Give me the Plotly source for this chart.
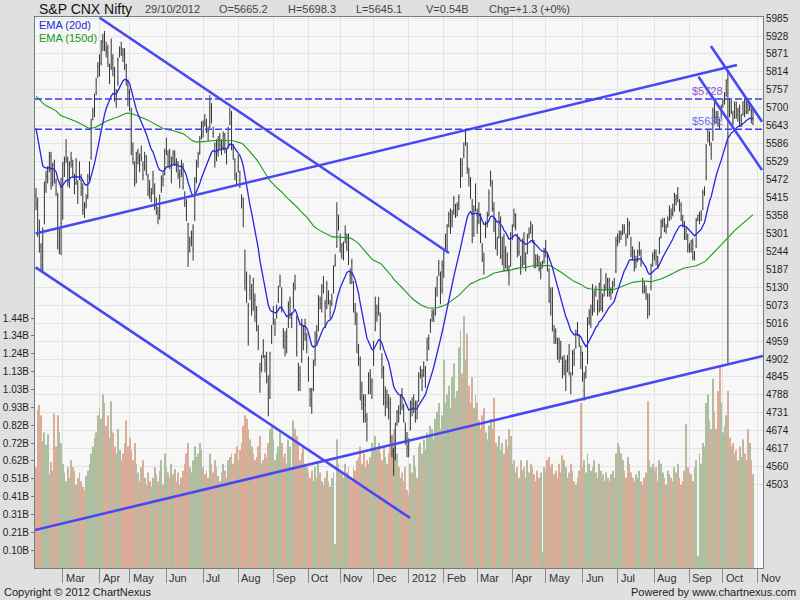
import pandas as pd
import plotly.graph_objects as go

# S&P CNX Nifty, daily bars 07/02/2011 .. 29/10/2012
holidays = [
    "2011-03-02", "2011-04-12", "2011-04-14", "2011-04-22", "2011-08-15",
    "2011-08-31", "2011-09-01", "2011-10-06", "2011-10-27", "2011-11-07",
    "2011-11-10", "2011-12-06", "2012-01-26", "2012-02-20", "2012-03-08",
    "2012-04-05", "2012-04-06", "2012-05-01", "2012-08-15", "2012-08-20",
    "2012-09-19", "2012-10-02", "2012-10-24",
]
saturday_sessions = ["2012-04-28", "2012-09-08"]

opens = [
    5420, 5400, 5320, 5260, 5200, 5340, 5465, 5485, 5510, 5545, 5465, 5520, 5460, 5420, 5260, 5320,
    5350, 5490, 5560, 5520, 5465, 5540, 5520, 5460, 5460, 5440, 5480, 5470, 5445, 5385, 5390, 5420, 5480, 5540, 5665, 5680, 5750, 5800,
    5835, 5840, 5915, 5920, 5880, 5890, 5830, 5830, 5860, 5820, 5715, 5780, 5865, 5890, 5880, 5870, 5830, 5760,
    5750, 5690, 5575, 5515, 5470, 5560, 5540, 5545, 5520, 5510, 5545, 5480, 5445, 5430, 5440, 5450, 5390, 5370, 5360, 5440, 5475, 5490,
    5560, 5550, 5545, 5500, 5540, 5550, 5520, 5525, 5470, 5490, 5515, 5415, 5400, 5330, 5270, 5290, 5250, 5350, 5470, 5525, 5560, 5610,
    5650, 5655, 5655, 5625, 5640, 5700, 5620, 5580, 5545, 5560, 5610, 5585, 5575, 5615, 5560, 5580, 5650, 5680, 5570, 5530, 5460,
    5515, 5495, 5420, 5410, 5150, 5160, 4990, 5120, 5070, 5150, 5090, 5020, 5000, 4870, 4875, 4920, 4910, 4910, 4800, 4780, 4960,
    5030, 4995, 5040, 5090, 5150, 5120, 4990, 4960, 4930, 5010, 5090, 5040, 5070, 5150, 5030, 4820, 4850, 4900, 5000, 4980, 4970,
    4900, 4800, 4800, 4810, 4900, 4990, 5000, 5090, 5080, 5140, 5080, 5070, 5110, 5080, 5080, 5120, 5220, 5260, 5350,
    5280, 5230, 5250, 5300, 5270, 5290, 5170, 5210, 5130, 5050, 5040, 4920, 4900, 4760, 4780, 4720, 4690, 4800, 4850, 4780,
    4890, 5000, 5050, 5050, 5040, 4900, 4870, 4780, 4790, 4770, 4760, 4620, 4610, 4590, 4700, 4730, 4730, 4790, 4750, 4680, 4650,
    4640, 4680, 4760, 4760, 4720, 4760, 4770, 4870, 4850, 4850, 4840, 4900, 4940, 4990, 5040, 5030, 5050, 5120, 5190, 5170, 5120,
    5200, 5270, 5260, 5350, 5370, 5340, 5375, 5380, 5390, 5380, 5450, 5500, 5550, 5590, 5580, 5500, 5470, 5400, 5300, 5400,
    5360, 5370, 5360, 5260, 5200, 5300, 5340, 5360, 5470, 5460, 5380, 5330, 5250, 5290, 5350, 5230, 5290, 5200, 5230, 5170, 5200,
    5300, 5330, 5350, 5290, 5240, 5220, 5200, 5290, 5200, 5240, 5300, 5310, 5320, 5270, 5200, 5220, 5210, 5170, 5200, 5210,
    5250, 5230, 5180, 5060, 5120, 4990, 4990, 4950, 4950, 4910, 4900, 4880, 4830, 4880, 4920, 4840, 4860, 4920, 4940, 4990, 4970, 4920,
    4910, 4800, 4860, 4890, 5020, 5030, 5120, 5060, 5110, 5080, 5060, 5150, 5080, 5130, 5130, 5110, 5150, 5110, 5130, 5140, 5180,
    5290, 5290, 5300, 5310, 5320, 5290, 5290, 5330, 5280, 5250, 5240, 5210, 5220, 5260, 5240, 5150, 5130, 5120, 5100, 5060, 5130, 5210,
    5230, 5240, 5200, 5240, 5290, 5330, 5340, 5310, 5330, 5350, 5370, 5370, 5380, 5410, 5420, 5400, 5390, 5340, 5330, 5290, 5290,
    5260, 5250, 5270, 5220, 5260, 5345, 5350, 5360, 5380, 5440, 5480, 5600, 5610, 5580, 5600, 5700, 5670, 5670, 5660, 5680,
    5710, 5720, 5740, 5790, 5720, 5690, 5680, 5670, 5710, 5680, 5700, 5650, 5680, 5720, 5690, 5710, 5700, 5690, 5665.2,
]
highs = [
    5445, 5415, 5345, 5270, 5320, 5465, 5500, 5515, 5560, 5560, 5525, 5535, 5475, 5430, 5320, 5478,
    5528, 5545, 5600, 5545, 5530, 5560, 5535, 5490, 5540, 5470, 5530, 5490, 5460, 5400, 5425, 5490, 5530, 5665, 5700, 5745, 5795, 5845,
    5870, 5915, 5935, 5944, 5910, 5900, 5840, 5920, 5870, 5830, 5760, 5860, 5895, 5910, 5890, 5890, 5840, 5790,
    5760, 5700, 5590, 5530, 5560, 5570, 5555, 5580, 5530, 5560, 5550, 5490, 5470, 5445, 5500, 5460, 5415, 5385, 5425, 5485, 5495, 5570,
    5605, 5565, 5570, 5545, 5565, 5565, 5540, 5530, 5505, 5535, 5525, 5435, 5410, 5335, 5290, 5310, 5330, 5480, 5535, 5560, 5610, 5657,
    5660, 5680, 5665, 5640, 5740, 5715, 5640, 5590, 5600, 5610, 5620, 5600, 5625, 5620, 5570, 5640, 5700, 5690, 5585, 5540, 5495,
    5551, 5500, 5425, 5415, 5250, 5180, 5080, 5170, 5140, 5160, 5110, 5070, 5010, 4890, 4915, 4965, 4915, 4925, 4850, 4925, 5010,
    5070, 5030, 5075, 5135, 5170, 5130, 5000, 4990, 5000, 5085, 5100, 5050, 5145, 5170, 5040, 4890, 4880, 5030, 5010, 5030, 4985,
    4910, 4810, 4810, 4900, 4990, 5010, 5105, 5100, 5140, 5165, 5090, 5150, 5120, 5090, 5110, 5200, 5235, 5400, 5360,
    5300, 5270, 5275, 5326, 5300, 5300, 5190, 5220, 5150, 5080, 5050, 4950, 4910, 4830, 4790, 4790, 4730, 4860, 4870, 4840,
    4960, 5100, 5075, 5099, 5050, 4920, 4880, 4815, 4805, 4790, 4780, 4660, 4620, 4700, 4740, 4755, 4790, 4810, 4760, 4700, 4670,
    4650, 4770, 4780, 4790, 4770, 4770, 4860, 4880, 4870, 4895, 4880, 4970, 4980, 5030, 5060, 5060, 5130, 5165, 5217, 5180, 5215,
    5245, 5300, 5330, 5370, 5380, 5375, 5420, 5395, 5400, 5425, 5540, 5540, 5590, 5630, 5590, 5510, 5480, 5410, 5390, 5460,
    5380, 5400, 5365, 5270, 5240, 5340, 5370, 5440, 5500, 5470, 5400, 5350, 5290, 5370, 5355, 5290, 5300, 5260, 5240, 5200, 5305,
    5330, 5380, 5365, 5300, 5290, 5230, 5285, 5305, 5240, 5300, 5320, 5340, 5330, 5280, 5235, 5235, 5230, 5210, 5215, 5255,
    5280, 5240, 5190, 5130, 5130, 5010, 5000, 4970, 4970, 4960, 4910, 4915, 4900, 4915, 4950, 4860, 4930, 4935, 4995, 5020, 4980, 4945,
    4925, 4860, 4880, 5035, 5060, 5075, 5140, 5120, 5135, 5090, 5145, 5190, 5110, 5140, 5175, 5160, 5160, 5130, 5150, 5160, 5290,
    5300, 5310, 5310, 5330, 5330, 5300, 5350, 5340, 5290, 5260, 5250, 5230, 5250, 5275, 5250, 5160, 5150, 5135, 5110, 5110, 5205, 5240,
    5250, 5250, 5230, 5290, 5345, 5350, 5350, 5330, 5355, 5390, 5380, 5395, 5430, 5425, 5448, 5410, 5400, 5360, 5340, 5320, 5300,
    5270, 5280, 5285, 5245, 5350, 5360, 5370, 5375, 5440, 5450, 5585, 5630, 5625, 5590, 5700, 5720, 5690, 5690, 5665, 5710,
    5730, 5750, 5790, 5815, 5730, 5725, 5690, 5720, 5720, 5700, 5710, 5680, 5720, 5730, 5725, 5720, 5720, 5700, 5698.3,
]
lows = [
    5375, 5290, 5240, 5178, 5180, 5330, 5430, 5460, 5495, 5440, 5450, 5460, 5420, 5250, 5235, 5232,
    5345, 5480, 5525, 5450, 5445, 5510, 5480, 5425, 5455, 5395, 5470, 5420, 5360, 5350, 5380, 5410, 5465, 5535, 5660, 5670, 5740, 5795,
    5800, 5835, 5880, 5880, 5860, 5830, 5775, 5820, 5800, 5720, 5700, 5770, 5860, 5865, 5845, 5820, 5770, 5705,
    5690, 5550, 5520, 5450, 5460, 5520, 5495, 5530, 5470, 5500, 5485, 5420, 5410, 5400, 5425, 5375, 5360, 5330, 5345, 5430, 5450, 5485,
    5550, 5510, 5505, 5460, 5520, 5515, 5495, 5475, 5445, 5480, 5440, 5385, 5340, 5195, 5240, 5260, 5215, 5340, 5460, 5510, 5550, 5600,
    5605, 5640, 5620, 5595, 5635, 5650, 5605, 5510, 5530, 5545, 5570, 5550, 5565, 5555, 5520, 5570, 5645, 5565, 5535, 5470, 5455,
    5495, 5445, 5380, 5320, 5120, 5080, 4945, 5090, 5040, 5055, 5020, 4990, 4930, 4795, 4860, 4905, 4860, 4825, 4720, 4775, 4950,
    5010, 4975, 5030, 5080, 5130, 5050, 4935, 4910, 4920, 5000, 5030, 5000, 5060, 5120, 4910, 4800, 4800, 4890, 4930, 4960, 4920,
    4830, 4750, 4728, 4800, 4880, 4950, 4990, 5060, 5050, 5110, 5000, 5060, 5075, 5030, 5070, 5110, 5195, 5255, 5310,
    5240, 5220, 5215, 5270, 5245, 5200, 5140, 5140, 5050, 5010, 4920, 4880, 4770, 4740, 4700, 4700, 4640, 4790, 4790, 4775,
    4880, 4990, 5020, 5040, 4930, 4840, 4755, 4720, 4745, 4710, 4635, 4590, 4531, 4580, 4690, 4700, 4725, 4740, 4700, 4630, 4590,
    4590, 4675, 4720, 4730, 4700, 4710, 4765, 4840, 4800, 4845, 4810, 4895, 4930, 4985, 5020, 5020, 5040, 5100, 5165, 5076, 5110,
    5160, 5250, 5240, 5320, 5300, 5320, 5360, 5350, 5355, 5375, 5445, 5480, 5540, 5580, 5490, 5450, 5410, 5270, 5290, 5370,
    5300, 5330, 5270, 5210, 5170, 5285, 5320, 5355, 5450, 5370, 5305, 5250, 5230, 5285, 5220, 5200, 5180, 5190, 5180, 5135, 5195,
    5280, 5320, 5310, 5225, 5230, 5170, 5195, 5200, 5180, 5235, 5285, 5300, 5270, 5190, 5190, 5195, 5180, 5155, 5190, 5205,
    5225, 5180, 5080, 5040, 4990, 4950, 4950, 4900, 4890, 4900, 4840, 4850, 4800, 4860, 4850, 4790, 4850, 4880, 4935, 4975, 4940, 4870,
    4830, 4770, 4840, 4885, 5010, 5000, 5040, 5050, 5100, 5040, 5050, 5055, 5050, 5100, 5120, 5100, 5100, 5090, 5110, 5130, 5175,
    5260, 5270, 5280, 5295, 5300, 5260, 5285, 5295, 5225, 5215, 5180, 5190, 5210, 5230, 5195, 5110, 5110, 5090, 5030, 5040, 5120, 5195,
    5215, 5200, 5190, 5235, 5285, 5320, 5305, 5300, 5320, 5340, 5345, 5355, 5370, 5390, 5400, 5370, 5340, 5320, 5280, 5280, 5240,
    5240, 5240, 5215, 5215, 5255, 5340, 5330, 5340, 5375, 5420, 5470, 5590, 5580, 5535, 5595, 5650, 5650, 5640, 5630, 5670,
    5700, 5710, 5735, 4888, 5670, 5680, 5645, 5665, 5665, 5655, 5640, 5640, 5675, 5670, 5680, 5680, 5690, 5650, 5645.1,
]
closes = [
    5396, 5313, 5253, 5226, 5310, 5456, 5482, 5505, 5546, 5459, 5518, 5469, 5437, 5263, 5303, 5333,
    5522, 5537, 5538, 5463, 5520, 5531, 5494, 5446, 5531, 5449, 5511, 5446, 5374, 5364, 5413, 5480, 5522, 5654, 5687, 5737, 5787, 5834,
    5826, 5909, 5910, 5891, 5885, 5842, 5787, 5911, 5824, 5729, 5740, 5851, 5884, 5875, 5868, 5834, 5785, 5749,
    5701, 5566, 5537, 5459, 5551, 5541, 5532, 5541, 5486, 5544, 5499, 5438, 5420, 5428, 5486, 5386, 5394, 5348, 5412, 5476, 5473, 5560,
    5592, 5529, 5516, 5532, 5556, 5526, 5521, 5486, 5482, 5527, 5448, 5396, 5366, 5257, 5275, 5278, 5320, 5471, 5526, 5545, 5600, 5647,
    5627, 5650, 5632, 5625, 5728, 5660, 5617, 5526, 5585, 5599, 5581, 5568, 5613, 5567, 5542, 5633, 5680, 5574, 5547, 5487, 5482,
    5516, 5456, 5404, 5331, 5211, 5118, 5073, 5162, 5138, 5073, 5036, 5057, 4944, 4845, 4898, 4948, 4888, 4839, 4748, 4919, 5001,
    5040, 5017, 5064, 5125, 5153, 5059, 4947, 4940, 4974, 5075, 5084, 5031, 5140, 5133, 4923, 4868, 4835, 5017, 4945, 5016, 4943,
    4849, 4773, 4751, 4888, 4979, 4975, 5099, 5077, 5132, 5118, 5038, 5140, 5091, 5050, 5098, 5191, 5202, 5361, 5326,
    5258, 5265, 5266, 5284, 5289, 5221, 5169, 5148, 5068, 5030, 4934, 4905, 4778, 4812, 4706, 4756, 4710, 4851, 4805, 4832,
    4936, 5050, 5039, 5062, 4943, 4866, 4764, 4800, 4763, 4746, 4651, 4613, 4544, 4693, 4733, 4714, 4779, 4750, 4705, 4646, 4624,
    4636, 4765, 4749, 4749, 4754, 4742, 4849, 4860, 4831, 4867, 4873, 4955, 4967, 5018, 5048, 5046, 5127, 5158, 5205, 5087, 5199,
    5236, 5269, 5326, 5361, 5335, 5368, 5412, 5381, 5390, 5416, 5532, 5521, 5564, 5607, 5505, 5483, 5429, 5281, 5375, 5385,
    5339, 5359, 5280, 5222, 5220, 5333, 5359, 5430, 5463, 5380, 5318, 5257, 5274, 5364, 5228, 5278, 5184, 5243, 5194, 5178, 5296,
    5318, 5358, 5322, 5234, 5243, 5192, 5276, 5207, 5226, 5289, 5300, 5332, 5290, 5200, 5222, 5202, 5189, 5190, 5209, 5248,
    5239, 5188, 5087, 5114, 4999, 4974, 4965, 4928, 4907, 4942, 4858, 4870, 4891, 4906, 4860, 4835, 4921, 4920, 4985, 4990, 4950, 4924,
    4842, 4848, 4863, 5028, 5050, 5068, 5054, 5115, 5121, 5054, 5139, 5064, 5103, 5120, 5166, 5146, 5114, 5120, 5141, 5149, 5279,
    5278, 5287, 5302, 5327, 5316, 5275, 5345, 5306, 5235, 5227, 5197, 5216, 5240, 5243, 5205, 5117, 5128, 5109, 5043, 5100, 5199, 5229,
    5240, 5227, 5215, 5282, 5336, 5338, 5322, 5320, 5347, 5380, 5363, 5366, 5421, 5413, 5415, 5387, 5350, 5334, 5288, 5315, 5258,
    5253, 5275, 5225, 5238, 5342, 5358, 5359, 5363, 5431, 5435, 5577, 5610, 5600, 5554, 5691, 5669, 5673, 5663, 5650, 5703,
    5718, 5731, 5787, 5747, 5676, 5705, 5652, 5708, 5676, 5688, 5648, 5660, 5718, 5684, 5717, 5691, 5705, 5664, 5665.6,
]
# volume in billions of shares
volumes = [
    0.58, 0.91, 0.94, 0.88, 0.73, 0.78, 0.71, 0.77, 0.54, 0.61, 0.56, 0.89, 0.70, 0.88, 0.78, 0.72,
    0.60, 0.55, 0.50, 0.58, 0.52, 0.62, 0.58, 0.56, 0.48, 0.52, 0.55, 0.50, 0.47, 0.45, 0.53, 0.56, 0.60, 0.66, 0.70, 0.75, 0.78, 0.88,
    0.92, 0.86, 1.00, 0.95, 0.82, 0.88, 0.75, 0.96, 0.78, 0.70, 0.66, 0.80, 0.68, 0.62, 0.66, 0.72, 0.85, 0.70,
    0.75, 0.68, 0.62, 0.72, 0.60, 0.55, 0.50, 0.58, 0.62, 0.52, 0.48, 0.55, 0.50, 0.47, 0.52, 0.58, 0.54, 0.50, 0.56, 0.62, 0.48, 0.66,
    0.58, 0.55, 0.52, 0.60, 0.54, 0.57, 0.50, 0.55, 0.48, 0.52, 0.56, 0.60, 0.66, 0.72, 0.58, 0.55, 0.62, 0.70, 0.64, 0.66, 0.72, 0.68,
    0.58, 0.54, 0.56, 0.52, 0.66, 0.60, 0.55, 0.62, 0.58, 0.53, 0.50, 0.55, 0.60, 0.56, 0.52, 0.62, 0.64, 0.66, 0.60, 0.66, 0.70,
    0.62, 0.68, 0.72, 0.82, 0.88, 0.86, 0.80, 0.74, 0.70, 0.66, 0.62, 0.64, 0.70, 0.76, 0.60, 0.62, 0.66, 0.64, 0.72, 0.80, 0.82,
    0.74, 0.62, 0.66, 0.70, 0.78, 0.72, 0.64, 0.66, 0.60, 0.74, 0.70, 0.58, 0.85, 0.80, 0.76, 0.72, 0.62, 0.66, 0.70, 0.60, 0.58,
    0.55, 0.52, 0.56, 0.50, 0.58, 0.52, 0.60, 0.55, 0.50, 0.48, 0.52, 0.56, 0.50, 0.47, 0.52, 0.55, 0.14, 0.74, 0.60,
    0.56, 0.54, 0.52, 0.60, 0.55, 0.58, 0.52, 0.50, 0.58, 0.56, 0.62, 0.64, 0.70, 0.60, 0.66, 0.58, 0.62, 0.60, 0.64, 0.72,
    0.70, 0.76, 0.68, 0.72, 0.66, 0.62, 0.70, 0.64, 0.60, 0.66, 0.72, 0.68, 0.80, 0.74, 0.66, 0.58, 0.52, 0.55, 0.50, 0.58, 0.45,
    0.42, 0.60, 0.55, 0.65, 0.58, 0.52, 0.70, 0.72, 0.66, 0.74, 0.68, 0.78, 0.76, 0.82, 0.80, 0.74, 0.86, 0.90, 0.95, 0.80, 0.88,
    1.20, 0.95, 1.00, 1.05, 0.92, 1.10, 1.18, 0.98, 1.02, 1.27, 1.37, 1.12, 1.45, 1.20, 1.35, 1.05, 0.95, 1.10, 0.92, 1.00,
    0.95, 0.85, 0.80, 0.88, 0.92, 0.78, 0.74, 0.82, 0.86, 0.80, 0.98, 0.72, 0.70, 0.76, 0.68, 0.72, 0.66, 0.74, 0.70, 0.80, 0.76,
    0.60, 0.62, 0.55, 0.58, 0.52, 0.62, 0.56, 0.58, 0.52, 0.62, 0.55, 0.60, 0.58, 0.54, 0.50, 0.56, 0.52, 0.55, 0.09, 0.58,
    0.56, 0.62, 0.64, 0.58, 0.60, 0.54, 0.56, 0.52, 0.60, 0.55, 0.65, 0.62, 0.58, 0.52, 0.55, 0.60, 0.56, 0.50, 0.48, 0.52, 0.56, 0.95,
    0.58, 0.62, 0.55, 0.66, 0.60, 0.56, 0.58, 0.62, 0.55, 0.52, 0.60, 0.56, 0.54, 0.50, 0.55, 0.52, 0.50, 0.54, 0.56, 0.52, 0.66,
    0.72, 0.70, 0.66, 0.62, 0.56, 0.52, 0.64, 0.60, 0.55, 0.52, 0.50, 0.54, 0.52, 0.56, 0.50, 0.48, 0.52, 0.55, 0.96, 0.62, 0.58, 0.60,
    0.56, 0.58, 0.50, 0.62, 0.60, 0.55, 0.52, 0.48, 0.56, 0.54, 0.52, 0.50, 0.58, 0.55, 0.60, 0.52, 0.48, 0.50, 0.56, 0.83, 0.58,
    0.55, 0.54, 0.50, 0.58, 0.62, 0.07, 0.66, 0.60, 0.72, 0.70, 0.95, 1.00, 0.85, 0.80, 1.09, 0.90, 0.80, 1.02, 1.17, 0.95,
    0.78, 0.82, 0.88, 1.02, 0.75, 0.70, 0.72, 0.66, 0.68, 0.62, 0.70, 0.64, 0.74, 0.66, 0.62, 0.80, 0.72, 0.62, 0.54,
]

ema_fast_seed = 5660
ema_slow_seed = 5742

# horizontal levels
levels = [5728, 5632]
level_labels = ["$5728", "$5632"]
level_colors = ["#8c52d6", "#6a6cf0"]

# hand-drawn trend lines: (bar index, price) end points
trend_lines = [
    [(38.1, 5986), (247.1, 5238.7)],
    [(-0.2, 5193.3), (223.8, 4396.9)],
    [(-0.6, 4358.8), (435.0, 4911.5)],
    [(-0.2, 5301.0), (419.4, 5835.9)],
    [(403.8, 5896.2), (434.4, 5655.8)],
    [(396.4, 5798.7), (434.4, 5502.4)],
]

price_ticks = [5985, 5928, 5871, 5814, 5757, 5700, 5643, 5586, 5529, 5472, 5415, 5358, 5301,
               5244, 5187, 5130, 5073, 5016, 4959, 4902, 4845, 4788, 4731, 4674, 4617, 4560, 4503]
vol_tick_text = ["0.10B", "0.21B", "0.31B", "0.41B", "0.51B", "0.62B", "0.72B",
                 "0.82B", "0.93B", "1.03B", "1.13B", "1.24B", "1.34B", "1.44B"]
vol_tick_vals = [1.44 * (i + 1) / 14 for i in range(14)]

header = [("29/10/2012", 143), ("O=5665.2", 217), ("H=5698.3", 286),
          ("L=5645.1", 354), ("V=0.54B", 424), ("Chg=+1.3 (+0%)", 487)]


def ema(values, seed, span):
    k = 2.0 / (span + 1)
    out = []
    e = seed
    for v in values:
        e += k * (v - e)
        out.append(e)
    return out


# trading calendar (for the month ticks)
days = pd.bdate_range("2011-02-07", "2012-11-09")
days = days[~days.isin(pd.to_datetime(holidays))]
days = days.union(pd.to_datetime(saturday_sessions))

month_idx, month_txt = [], []
for i in range(1, len(days)):
    if days[i].month != days[i - 1].month:
        month_idx.append(i)
        month_txt.append("2012" if (days[i].month == 1 and days[i].year == 2012) else days[i].strftime("%b"))

x = list(range(len(closes)))
ema20 = ema(closes, ema_fast_seed, 20)
ema150 = ema(closes, ema_slow_seed, 150)

vol_colors = []
for i, c in enumerate(closes):
    prev = closes[i - 1] if i else opens[0]
    vol_colors.append("#adbfa0" if c >= prev else "#dbac97")

# plot area in pixels: x 35..763, y 17..568
L, R, T, B = 35, 763, 17, 568


def px(v):
    return (v - L) / (R - L)


def py(v):
    return (B - v) / (B - T)


FONT = "Liberation Sans, Arial, sans-serif"

fig = go.Figure()

fig.add_trace(go.Bar(x=x, y=volumes, marker_color=vol_colors, marker_line_width=0,
                     yaxis="y", hoverinfo="skip"))

fig.add_trace(go.Ohlc(x=x, open=opens, high=highs, low=lows, close=closes, yaxis="y2",
                      increasing_line_color="#333333", decreasing_line_color="#333333",
                      line_width=1, tickwidth=0.3))

fig.add_trace(go.Scatter(x=x, y=ema150, yaxis="y2", mode="lines",
                         line=dict(color="#189a18", width=1.1)))
fig.add_trace(go.Scatter(x=x, y=ema20, yaxis="y2", mode="lines",
                         line=dict(color="#2626e2", width=1.3)))

for seg in trend_lines:
    fig.add_trace(go.Scatter(x=[p[0] for p in seg], y=[p[1] for p in seg], yaxis="y2",
                             mode="lines", line=dict(color="#4848f2", width=2.6)))

for lvl, lab, col in zip(levels, level_labels, level_colors):
    fig.add_shape(type="line", xref="paper", x0=0, x1=1, yref="y2", y0=lvl, y1=lvl,
                  line=dict(color="#3d3df0", width=1.6, dash="7px,3px"))
    fig.add_annotation(x=391.5, y=lvl, xref="x", yref="y2", text=lab, showarrow=False,
                       xanchor="left", yanchor="bottom", yshift=0,
                       font=dict(family=FONT, size=11, color=col))

# month labels sit just right of their tick
for i, t in zip(month_idx, month_txt):
    fig.add_annotation(x=i, y=py(578), xref="x", yref="paper", text=t, showarrow=False,
                       xanchor="left", yanchor="middle", xshift=1,
                       font=dict(family=FONT, size=11, color="#333333"))

fig.add_annotation(x=px(37), y=py(9), xref="paper", yref="paper", text="S&P CNX Nifty",
                   showarrow=False, xanchor="left", yanchor="middle",
                   font=dict(family=FONT, size=14, color="#111111"))
for txt, xpos in header:
    fig.add_annotation(x=px(xpos), y=py(9), xref="paper", yref="paper", text=txt,
                       showarrow=False, xanchor="left", yanchor="middle",
                       font=dict(family=FONT, size=11, color="#444444"))

fig.add_annotation(x=px(37), y=py(25), xref="paper", yref="paper", text="EMA (20d)",
                   showarrow=False, xanchor="left", yanchor="middle",
                   font=dict(family=FONT, size=11, color="#2626e2"))
fig.add_annotation(x=px(37), y=py(38), xref="paper", yref="paper", text="EMA (150d)",
                   showarrow=False, xanchor="left", yanchor="middle",
                   font=dict(family=FONT, size=11, color="#189a18"))

fig.add_annotation(x=px(2), y=py(592), xref="paper", yref="paper",
                   text="Copyright © 2012 ChartNexus", showarrow=False,
                   xanchor="left", yanchor="middle",
                   font=dict(family=FONT, size=11, color="#222222"))
fig.add_annotation(x=px(798), y=py(592), xref="paper", yref="paper",
                   text="Powered by www.chartnexus.com", showarrow=False,
                   xanchor="right", yanchor="middle",
                   font=dict(family=FONT, size=11, color="#222222"))

fig.update_layout(
    width=800, height=600,
    margin=dict(l=L, r=800 - R, t=T, b=600 - B, autoexpand=False),
    paper_bgcolor="#e0e0e0",
    plot_bgcolor="#f7f7f7",
    showlegend=False,
    bargap=0.45,
    hovermode=False,
    font=dict(family=FONT, size=10, color="#222222"),
    xaxis=dict(
        range=[-0.6, 435], automargin=False,
        tickvals=month_idx, showticklabels=False,
        ticks="outside", ticklen=14, tickcolor="#8a8a7a",
        showgrid=True, gridcolor="#e3e3e3", gridwidth=1,
        showline=True, linecolor="#708080", mirror=True,
        zeroline=False, rangeslider=dict(visible=False),
    ),
    yaxis=dict(
        range=[0, 3.174], side="left", automargin=False,
        tickvals=vol_tick_vals, ticktext=vol_tick_text,
        ticks="outside", ticklen=3, tickcolor="#708080",
        tickfont=dict(family=FONT, size=10, color="#222222"),
        showgrid=False, zeroline=False,
        showline=True, linecolor="#708080",
    ),
    yaxis2=dict(
        range=[4238.1, 5988.4], side="right", overlaying="y", automargin=False,
        tickvals=price_ticks, ticktext=[str(v) for v in price_ticks],
        ticks="", tickfont=dict(family=FONT, size=10, color="#222222"),
        showgrid=True, gridcolor="#e3e3e3", gridwidth=1,
        zeroline=False, showline=True, linecolor="#708080",
    ),
)

# page body has a default 8px margin; drop it so the 800x600 figure fills the window
fig.write_html("out.html", config={"displayModeBar": False},
               post_script="document.body.style.margin='0px';")
